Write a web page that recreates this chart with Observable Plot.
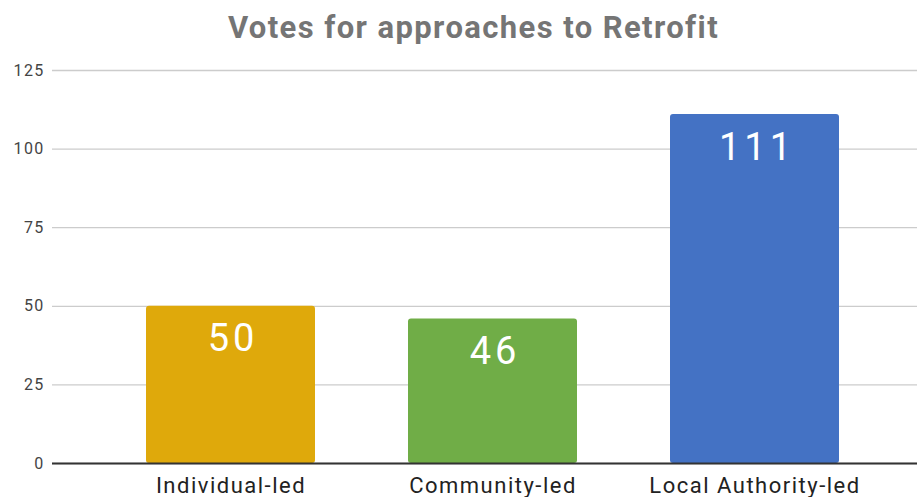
<!DOCTYPE html>
<html>
<head>
<meta charset="utf-8">
<script src="https://cdn.jsdelivr.net/npm/d3@7"></script>
<script src="https://cdn.jsdelivr.net/npm/@observablehq/plot@0.6"></script>
<style>
  body { margin: 0; background: #fff; font-family: Roboto, sans-serif; }
  #title { width: 917px; box-sizing: border-box; padding-left: 30px; height: 56px; line-height: 56px;
           text-align: center; font-family: Roboto, sans-serif; font-weight: bold; font-size: 31px;
           letter-spacing: 1.4px; color: #757575; }
  g[aria-label="x-axis tick label"] text { letter-spacing: 1.5px; }
  g[aria-label="y-axis tick label"] text { letter-spacing: 1.3px; }
  g[aria-label="text"] text { letter-spacing: 4px; }
</style>
</head>
<body>
<div id="title">Votes for approaches to Retrofit</div>
<div id="chart"></div>
<script>
const categories = ["Individual-led", "Community-led", "Local Authority-led"];
const votes = [50, 46, 111];
const colors = ["#DFA90B", "#70AD47", "#4472C4"];
const yTicks = [0, 25, 50, 75, 100, 125];

const data = categories.map((c, i) => ({category: c, votes: votes[i], color: colors[i]}));

const chart = Plot.plot({
  width: 917,
  height: 441,
  marginTop: 14,
  marginBottom: 34,
  marginLeft: 52,
  marginRight: 0,
  style: {fontFamily: "Roboto, sans-serif", background: "#fff", overflow: "visible"},
  x: {domain: categories, range: [99, 885], paddingInner: 0.355, paddingOuter: 0.1775, label: null},
  y: {domain: [0, 125], label: null},
  marks: [
    Plot.gridY(yTicks, {stroke: "#cccccc", strokeOpacity: 1, strokeWidth: 1.3}),
    Plot.barY(data, {x: "category", y: "votes", fill: "color", rx: 3}),
    Plot.ruleY([0], {stroke: "#333333", strokeWidth: 2}),
    Plot.text(data, {x: "category", y: "votes", text: d => String(d.votes), fill: "white",
      fontSize: 38, dy: 33, dx: 2, lineAnchor: "middle", fontFamily: "Roboto, sans-serif"}),
    Plot.axisY(yTicks, {tickSize: 0, tickPadding: 8, fontSize: 16, fill: "#444", label: null}),
    Plot.axisX({tickSize: 0, tickPadding: 14, fontSize: 22, fill: "#222", label: null})
  ]
});
document.getElementById("chart").appendChild(chart);
</script>
</body>
</html>
